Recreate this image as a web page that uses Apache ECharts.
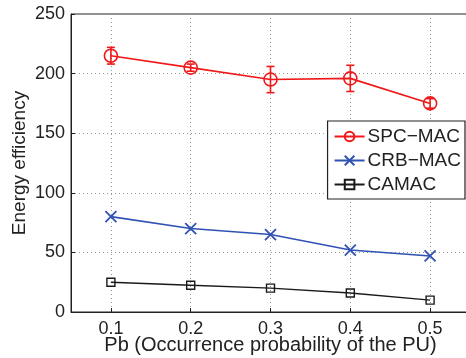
<!DOCTYPE html>
<html>
<head>
<meta charset="utf-8">
<script src="https://cdn.jsdelivr.net/npm/echarts@6/dist/echarts.min.js"></script>
<style>html,body{margin:0;padding:0;background:#fff}#c{width:466px;height:358px}</style>
</head>
<body>
<div id="c"></div>
<script>
const xValues = [0.1, 0.2, 0.3, 0.4, 0.5];
const spcMac = [215, 205, 195, 196, 175];
const spcErr = [7, 3, 11, 11, 4];
const crbMac = [80, 70, 65, 52, 47];
const camac = [25, 22.5, 20, 16, 10];
const seriesNames = ['SPC\u2212MAC', 'CRB\u2212MAC', 'CAMAC'];

const font = 'Liberation Sans, Arial, sans-serif';
const red = '#f01818', blue = '#2f52b4', black = '#1a1a1a';

const pairs = a => xValues.map((x, i) => [x, a[i]]);
const errData = xValues.map((x, i) => [x, spcMac[i] - spcErr[i], spcMac[i] + spcErr[i]]);

const chart = echarts.init(document.getElementById('c'));
chart.setOption({
  animation: false,
  backgroundColor: '#fff',
  grid: { left: 71, top: 14, width: 399, bottom: 46, outerBoundsMode: 'none', containLabel: false, show: true, borderColor: '#222', borderWidth: 1, backgroundColor: 'transparent' },
  legend: {
    right: 1, top: 121, orient: 'vertical',
    itemWidth: 30, itemHeight: 12, itemGap: 5,
    padding: [6, 4, 5, 6],
    backgroundColor: '#fff', borderColor: '#222', borderWidth: 1.2, borderRadius: 0,
    textStyle: { fontFamily: font, fontSize: 19, color: '#222', padding: [0, 0, 0, -2] },
    data: seriesNames
  },
  xAxis: {
    type: 'value', min: 0.05, max: 0.55, splitNumber: 5,
    name: 'Pb (Occurrence probability of the PU)', nameLocation: 'middle', nameGap: 23,
    nameMoveOverlap: false,
    nameTextStyle: { fontFamily: font, fontSize: 20, color: '#222' },
    axisLine: { show: true, lineStyle: { color: '#222', width: 1 } },
    axisTick: { show: true, inside: true, length: 4, lineStyle: { color: '#222' } },
    axisLabel: {
      fontFamily: font, fontSize: 18, color: '#222', margin: 8,
      formatter: v => (Math.abs(v * 10 - Math.round(v * 10)) < 1e-6 ? v.toFixed(1) : '')
    },
    splitLine: { show: true, lineStyle: { color: '#999', type: [1, 3], width: 1 } }
  },
  yAxis: {
    type: 'value', min: 0, max: 250, interval: 50,
    name: 'Energy efficiency', nameLocation: 'middle', nameGap: 42,
    nameMoveOverlap: false,
    nameTextStyle: { fontFamily: font, fontSize: 19, color: '#222' },
    axisLine: { show: true, lineStyle: { color: '#222', width: 1 } },
    axisTick: { show: true, inside: true, length: 4, lineStyle: { color: '#222' } },
    axisLabel: { fontFamily: font, fontSize: 18, color: '#222', margin: 6 },
    splitLine: { show: true, lineStyle: { color: '#999', type: [1, 3], width: 1 } }
  },
  series: [
    {
      name: seriesNames[0], type: 'line', data: pairs(spcMac),
      symbol: 'circle', symbolSize: 13,
      lineStyle: { color: red, width: 1.6 },
      itemStyle: { color: 'transparent', borderColor: red, borderWidth: 1.6 },
      z: 3
    },
    {
      name: seriesNames[0] + '_err', type: 'custom', data: errData,
      renderItem: (params, api) => {
        const x = api.value(0);
        const lo = api.coord([x, api.value(1)]);
        const hi = api.coord([x, api.value(2)]);
        const w = 4;
        const st = { stroke: red, lineWidth: 1.6 };
        return {
          type: 'group', children: [
            { type: 'line', shape: { x1: lo[0], y1: lo[1], x2: hi[0], y2: hi[1] }, style: st },
            { type: 'line', shape: { x1: lo[0] - w, y1: lo[1], x2: lo[0] + w, y2: lo[1] }, style: st },
            { type: 'line', shape: { x1: hi[0] - w, y1: hi[1], x2: hi[0] + w, y2: hi[1] }, style: st }
          ]
        };
      },
      z: 4
    },
    {
      name: seriesNames[1], type: 'line', data: pairs(crbMac),
      symbol: 'path://M0,0L10,10M10,0L0,10', symbolSize: 11,
      lineStyle: { color: blue, width: 1.6 },
      itemStyle: { color: 'transparent', borderColor: blue, borderWidth: 1.8 },
      z: 3
    },
    {
      name: seriesNames[2], type: 'line', data: pairs(camac),
      symbol: 'rect', symbolSize: 8,
      lineStyle: { color: black, width: 1.4 },
      itemStyle: { color: 'transparent', borderColor: black, borderWidth: 1.4 },
      z: 3
    }
  ]
});
</script>
</body>
</html>
